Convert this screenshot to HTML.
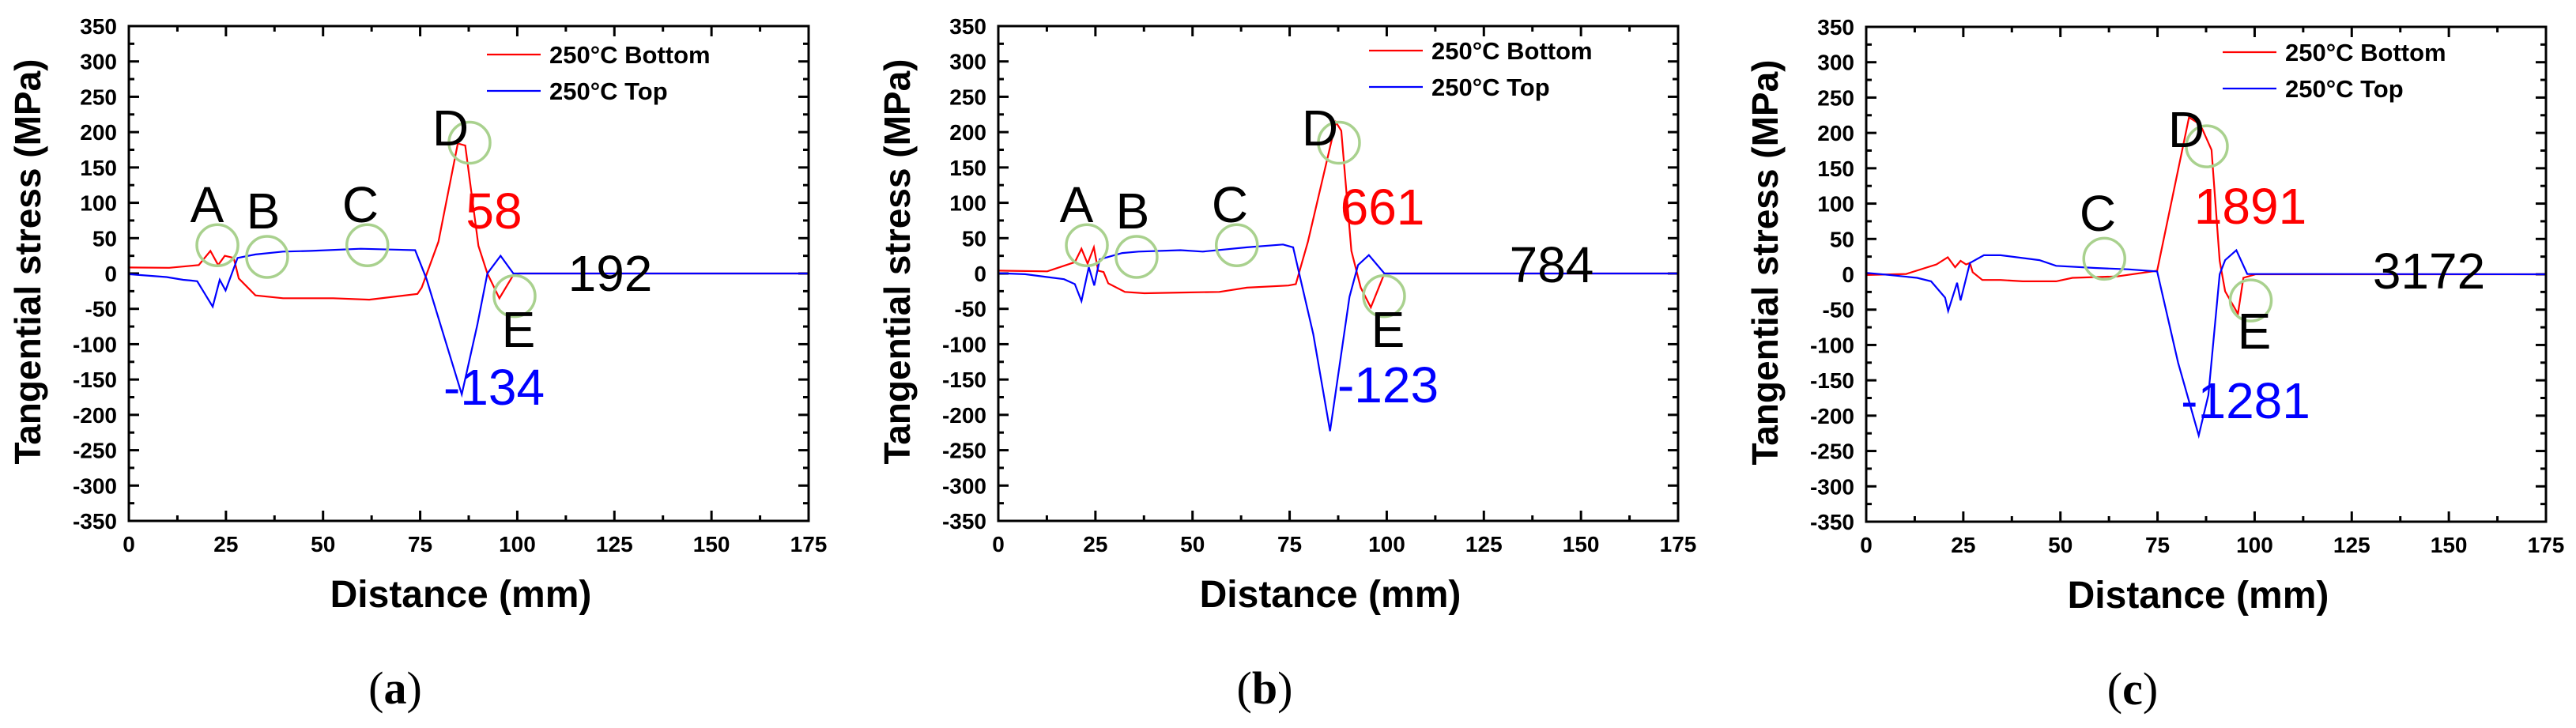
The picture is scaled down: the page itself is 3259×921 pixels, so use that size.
<!DOCTYPE html>
<html><head><meta charset="utf-8"><style>
html,body{margin:0;padding:0;background:#fff;}
svg{display:block;}
</style></head><body>
<svg id="fig" xmlns="http://www.w3.org/2000/svg" width="3259" height="921" viewBox="0 0 3259 921" font-family="Liberation Sans, sans-serif"></svg>
<script>
// ---- data ----
const xTicks = [0,25,50,75,100,125,150,175];
const yTicks = [350,300,250,200,150,100,50,0,-50,-100,-150,-200,-250,-300,-350];
const legendLabels = ["250°C Bottom","250°C Top"];

const aBottomX = [0,10.4,18,21,23,24.7,27,28.3,32.6,39.7,52.6,61.9,74.3,75.4,79.7,84.7,86.6,90,92.3,95.4,99,100.4,175];
const aBottomY = [8.5,8,12,32,12,25,22,-7,-31,-35,-35,-37,-29,-20,45,184,181,39,0,-35,-2,0,0];
const aTopX = [0,9.7,14,16,17.6,21.6,23.4,24.9,28,32.6,39.7,46.9,59.7,73.7,76.6,85.7,89.7,92.3,95.7,99,175];
const aTopY = [-1,-5,-9,-10,-11,-47,-9,-24,22,27,31,32,35,33,-7,-171,-73,0,25,0,0];

const bBottomX = [0,12.6,19.7,21.4,23,24.6,25.7,27.1,28.3,32.6,37.6,46.9,56.9,64,74.7,76.6,79.7,86.9,88.3,90.9,93.3,95.9,99.4,175];
const bBottomY = [4,3,16,35,14,37,4,2,-14,-26,-28,-27,-26,-20,-17,-15,45,214,202,32,-20,-48,0,0];
const bTopX = [0,6.9,12.6,16.9,19.7,21.4,23.3,24.7,26.1,31.9,36.1,46.9,52.6,64,73.3,75.9,81.1,85.4,90.4,92.6,95.4,99.4,175];
const bTopY = [0.5,-1,-5,-8,-15,-39,9,-17,20,29,31,33,31,37,41,37,-86,-223,-33,12,26,0,0];

const cBottomX = [0,10.3,18.1,21,22.9,24.3,25.7,26.7,27.4,29.9,34.6,40.3,48.9,53.1,64.6,74.9,83.1,86,88.9,91,92.4,95.7,97.1,100.3,175];
const cBottomY = [-1,0.5,14,24,10,19,14,16,3,-8,-8,-10,-10,-5,-3,5,222,212,176,19,-24,-56,-5,0,0];
const cTopX = [0,6,13.1,16.7,20.3,21.1,23.4,24.3,26.7,30.3,34.6,44.6,48.9,58.9,67.4,74.9,80.3,85.6,88.1,91,92.4,95.3,98.1,175];
const cTopY = [2,-1,-5,-10,-33,-52,-12,-37,16,27,27,20,12,9,7,4,-125,-228,-171,0,20,34,0.5,0];

const circlesA = [[22.8,40],[35.6,23.5],[61.4,40],[87.7,185],[99.3,-32]];
const circlesC = [[61.3,22],[87.7,181],[99,-37]];

// ---- layout ----
const NS="http://www.w3.org/2000/svg";
const svg=document.getElementById('fig');
const PW=860, PH=626;
function mk(tag,attrs,parent,text){const e=document.createElementNS(NS,tag);for(const k in attrs)e.setAttribute(k,attrs[k]);if(text!==undefined)e.textContent=text;parent.appendChild(e);return e;}

const panels=[
 {id:'a',L:163,T:33,bx:aBottomX,by:aBottomY,tx:aTopX,ty:aTopY,circ:circlesA,leg:[453,36],
  letters:[['A',99,248],['B',170,256],['C',293,248],['D',407,151],['E',493,406]],
  nums:[['58',462,256,'#ff0000'],['192',609,335,'#000'],['-134',462,479,'#0000ff']]},
 {id:'b',L:1263,T:33,bx:bBottomX,by:bBottomY,tx:bTopX,ty:bTopY,circ:circlesA,leg:[469,31],
  letters:[['A',99,248],['B',170,256],['C',293,248],['D',407,151],['E',493,406]],
  nums:[['661',486,251,'#ff0000'],['784',700,324,'#000'],['-123',493,476,'#0000ff']]},
 {id:'c',L:2361,T:34,bx:cBottomX,by:cBottomY,tx:cTopX,ty:cTopY,circ:circlesC,leg:[451,32],
  letters:[['C',293,258],['D',405,152],['E',491,407]],
  nums:[['1891',486,249,'#ff0000'],['3172',712,331,'#000'],['-1281',480,495,'#0000ff']]}
];

panels.forEach(p=>{
  const g=mk('g',{transform:`translate(${p.L},${p.T})`},svg);
  
  
  const xs=v=>v/175*PW, ys=v=>(350-v)/700*PH;
  // ticks
  const tk=mk('g',{stroke:'#000','stroke-width':3},g);
  
  
  for(let v=0;v<=175;v+=12.5){const maj=(v%25===0),l=maj?13:7,x=xs(v);
    mk('line',{x1:x,y1:PH,x2:x,y2:PH-l},tk);mk('line',{x1:x,y1:0,x2:x,y2:l},tk);}
  for(let v=-350;v<=350;v+=25){const maj=(v%50===0),l=maj?13:7,y=ys(v);
    mk('line',{x1:0,y1:y,x2:l,y2:y},tk);mk('line',{x1:PW,y1:y,x2:PW-l,y2:y},tk);}
  xTicks.forEach(v=>{const t=mk('text',{x:xs(v),y:PH+39,'font-size':28,'font-weight':'bold','text-anchor':'middle'},g,String(v));
    });
  yTicks.forEach(v=>{const t=mk('text',{x:-15,y:ys(v)+10,'font-size':28,'font-weight':'bold','text-anchor':'end'},g,String(v));
    });
  // series
  const path=(X,Y)=>X.map((x,i)=>(i?'L':'M')+xs(x).toFixed(1)+','+ys(Y[i]).toFixed(1)).join(' ');
  const r=mk('path',{d:path(p.bx,p.by),fill:'none',stroke:'#ff0000','stroke-width':2.2},g);
  
  const b=mk('path',{d:path(p.tx,p.ty),fill:'none',stroke:'#0000ff','stroke-width':2.2},g);
  
  // frame
  const fr=mk('rect',{x:0,y:0,width:PW,height:PH,fill:'none',stroke:'#000','stroke-width':3},g);
  
  // circles
  p.circ.forEach(c=>{const e=mk('circle',{cx:xs(c[0]),cy:ys(c[1]),r:26,fill:'none',stroke:'#a9d18e','stroke-width':3.5},g);
    });
  // letters
  p.letters.forEach(l=>{const t=mk('text',{x:l[1],y:l[2],'font-size':64,'text-anchor':'middle'},g,l[0]);
    });
  p.nums.forEach(n=>{const t=mk('text',{x:n[1],y:n[2],'font-size':64,'text-anchor':'middle',fill:n[3]},g,n[0]);
    });
  // legend
  const lg=mk('g',{transform:`translate(${p.leg[0]},${p.leg[1]})`},g);
  
  [['#ff0000',0],['#0000ff',46]].forEach((s,i)=>{
    mk('line',{x1:0,y1:s[1],x2:68,y2:s[1],stroke:s[0],'stroke-width':2.2},lg);
    const t=mk('text',{x:79,y:s[1]+11,'font-size':31,'font-weight':'bold'},lg,legendLabels[i]);
    
  });
  // axis titles
  const xt=mk('text',{x:PW/2-10,y:735,'font-size':48,'font-weight':'bold','text-anchor':'middle'},g,'Distance (mm)');
  
  const yt=mk('text',{transform:`translate(-112,${PH/2-15}) rotate(-90)`,'font-size':46,'font-weight':'bold','text-anchor':'middle'},g,'Tangential stress (MPa)');
  
  // panel label
  const pl=mk('text',{x:PW/2-93,y:857,'font-size':58,'text-anchor':'middle','font-family':'Liberation Serif, serif'},g);
  
  mk('tspan',{},pl,'(');mk('tspan',{'font-weight':'bold'},pl,p.id);mk('tspan',{},pl,')');
});
</script>
</body></html>
